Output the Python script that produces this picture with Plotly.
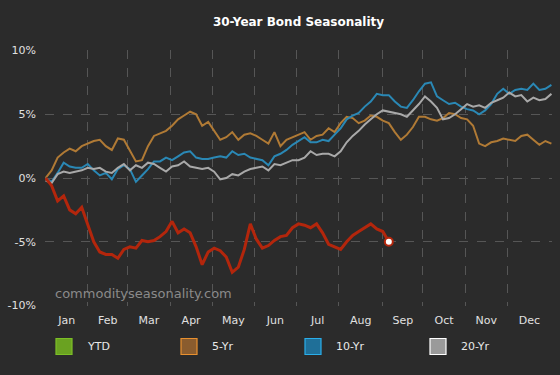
import plotly.graph_objects as go

# ---------------- data (percent change, sampled every 3 trading days) ----------------
months = ["Jan", "Feb", "Mar", "Apr", "May", "Jun", "Jul", "Aug", "Sep", "Oct", "Nov", "Dec"]
month_starts = [0, 21, 41, 62, 83, 104, 125, 146, 168, 188, 209, 230, 252]

five_yr = [0.0, 0.6, 1.6, 2.0, 2.3, 2.1, 2.5, 2.7, 2.9, 3.0,
           2.5, 2.2, 3.1, 3.0, 2.2, 1.3, 1.4, 2.5, 3.3, 3.5,
           3.7, 4.1, 4.6, 4.9, 5.2, 5.0, 4.1, 4.4, 3.7, 3.0,
           3.2, 3.6, 3.0, 3.4, 3.5, 3.3, 3.0, 2.7, 3.6, 2.5,
           3.0, 3.2, 3.4, 3.6, 3.0, 3.3, 3.4, 3.9, 3.6, 4.3,
           4.8, 4.7, 4.3, 4.5, 4.9, 4.8, 4.5, 4.3, 3.6, 3.0,
           3.4, 4.0, 4.8, 4.8, 4.6, 4.5, 4.7, 5.1, 5.0, 4.7,
           4.6, 4.1, 2.7, 2.5, 2.8, 2.9, 3.1, 3.0, 2.9, 3.3,
           3.4, 3.0, 2.6, 2.9, 2.7]

ten_yr = [0.0, -0.3, 0.4, 1.2, 0.9, 0.8, 0.8, 1.1, 0.6, 0.2,
          0.4, -0.1, 0.7, 1.0, 0.7, -0.3, 0.2, 0.7, 1.3, 1.3,
          1.6, 1.4, 1.7, 2.0, 2.1, 1.6, 1.5, 1.5, 1.6, 1.7,
          1.6, 2.1, 1.8, 1.9, 1.6, 1.5, 1.4, 1.0, 1.7, 1.9,
          2.2, 2.6, 2.9, 3.2, 2.8, 2.8, 3.0, 2.9, 3.4, 3.9,
          4.6, 4.9, 5.1, 5.6, 6.0, 6.6, 6.5, 6.5, 6.0, 5.6,
          5.5, 6.1, 6.8, 7.4, 7.5, 6.4, 6.1, 5.8, 5.9, 5.6,
          5.4, 5.3, 5.0, 5.3, 5.8, 6.6, 7.0, 6.6, 6.9, 7.0,
          6.9, 7.4, 6.9, 7.0, 7.3]

twenty_yr = [-0.2, -0.4, 0.3, 0.5, 0.4, 0.5, 0.6, 0.8, 0.7, 0.8,
             0.5, 0.4, 0.8, 1.1, 0.6, 1.0, 0.8, 1.2, 1.1, 0.8,
             0.5, 0.9, 1.0, 1.3, 0.9, 0.8, 0.7, 0.8, 0.5, -0.1,
             0.0, 0.3, 0.2, 0.5, 0.7, 0.8, 0.9, 0.6, 1.1, 1.0,
             1.2, 1.4, 1.4, 1.6, 2.1, 1.8, 1.9, 1.9, 1.7, 2.1,
             2.8, 3.3, 3.7, 4.2, 4.6, 5.0, 5.3, 5.2, 5.1, 5.0,
             4.8, 5.3, 5.8, 6.4, 6.0, 5.5, 4.6, 4.7, 5.0, 5.4,
             5.8, 5.6, 5.7, 5.5, 5.9, 6.1, 6.3, 6.7, 6.4, 6.5,
             6.0, 6.3, 6.1, 6.2, 6.6]

ytd = [0.0, -0.6, -1.8, -1.4, -2.5, -2.8, -2.3, -3.6, -5.0, -5.8,
       -6.0, -6.0, -6.3, -5.6, -5.4, -5.5, -4.9, -5.0, -4.9, -4.6,
       -4.2, -3.4, -4.3, -4.0, -4.3, -5.4, -6.8, -5.8, -5.5, -5.7,
       -6.2, -7.4, -7.0, -5.6, -3.6, -4.8, -5.5, -5.3, -4.9, -4.6,
       -4.5, -3.9, -3.6, -3.7, -3.9, -3.6, -4.3, -5.2, -5.4, -5.6,
       -5.0, -4.5, -4.2, -3.9, -3.6, -4.0, -4.2, -5.0]

y_ticks = [-10, -5, 0, 5, 10]
y_tick_labels = ["-10%", "-5%", "0%", "5%", "10%"]
legend_names = ["YTD", "5-Yr", "10-Yr", "20-Yr"]

# ---------------- figure ----------------
STEP = 3
days_hist = [i * STEP for i in range(len(five_yr))]
days_ytd = [i * STEP for i in range(len(ytd))]
month_mids = [(month_starts[i] + month_starts[i + 1]) / 2 for i in range(12)]

W, H = 560, 375
ML, MR, MT, MB = 45, 8, 50, 69
BG = "#2b2b2b"
GRID = "#565656"
FONT = "DejaVu Sans"

C_5 = "#b07a35"
C_10 = "#2a88b5"
C_20 = "#a9a9a9"
C_YTD = "#b3260c"

fig = go.Figure()
fig.add_trace(go.Scatter(x=days_hist, y=five_yr, mode="lines", line=dict(color=C_5, width=2),
                         name="5-Yr", showlegend=False, hoverinfo="skip"))
fig.add_trace(go.Scatter(x=days_hist, y=ten_yr, mode="lines", line=dict(color=C_10, width=2),
                         name="10-Yr", showlegend=False, hoverinfo="skip"))
fig.add_trace(go.Scatter(x=days_hist, y=twenty_yr, mode="lines", line=dict(color=C_20, width=2),
                         name="20-Yr", showlegend=False, hoverinfo="skip"))
fig.add_trace(go.Scatter(x=days_ytd, y=ytd, mode="lines", line=dict(color=C_YTD, width=3),
                         name="YTD", showlegend=False, hoverinfo="skip"))
fig.add_trace(go.Scatter(x=[days_ytd[-1]], y=[ytd[-1]], mode="markers",
                         marker=dict(color="white", size=8, line=dict(color=C_YTD, width=2)),
                         showlegend=False, hoverinfo="skip"))

pw = W - ML - MR
ph = H - MT - MB


def px_x(px):
    return (px - ML) / pw


def px_y(py):
    return (H - MB - py) / ph


# legend built from squares + labels
legend_fill = ["#6aa221", "#8a5c2e", "#1f6f98", "#9a9a9a"]
legend_line = ["#7cbf26", "#e8902f", "#2aaeea", "#ffffff"]
legend_x = [56, 181, 305, 430]
shapes = []
annotations = []
for name, fc, lc, x0 in zip(legend_names, legend_fill, legend_line, legend_x):
    shapes.append(dict(type="rect", xref="paper", yref="paper",
                       x0=px_x(x0), x1=px_x(x0 + 16), y0=px_y(354.5), y1=px_y(338.5),
                       fillcolor=fc, line=dict(color=lc, width=1.2)))
    annotations.append(dict(xref="paper", yref="paper", x=px_x(x0 + 29), y=px_y(346.5),
                            text=name, showarrow=False, xanchor="left", yanchor="middle",
                            font=dict(family=FONT, size=11, color="#e8e8e8")))

annotations.append(dict(xref="paper", yref="paper", x=px_x(53), y=px_y(293),
                        text="commodityseasonality.com", showarrow=False,
                        xanchor="left", yanchor="middle",
                        font=dict(family=FONT, size=13, color="#8a8a8a")))

fig.update_layout(
    width=W, height=H,
    margin=dict(l=ML, r=MR, t=MT, b=MB, autoexpand=False),
    paper_bgcolor=BG, plot_bgcolor=BG,
    title=dict(text="<b>30-Year Bond Seasonality</b>", x=0.5, xref="paper",
               y=1 - 22 / H, yref="container", yanchor="middle", xanchor="center",
               font=dict(family=FONT, size=12, color="#ffffff")),
    shapes=shapes,
    annotations=annotations,
    showlegend=False,
    hovermode=False,
)
fig.update_xaxes(
    range=[-0.3, 252.3], tickvals=month_mids, ticktext=months,
    showgrid=False, zeroline=False, showline=False, ticks="", automargin=False,
    tickfont=dict(family=FONT, size=11, color="#e0e0e0"),
    ticklabelstandoff=6,
    minor=dict(tickvals=month_starts, showgrid=True, gridcolor=GRID,
               griddash="dash", gridwidth=1, ticks=""),
)
fig.update_yaxes(
    range=[-10.04, 10.04], tickvals=y_ticks, ticktext=y_tick_labels,
    showgrid=True, gridcolor=GRID, griddash="dash", gridwidth=1,
    zeroline=False, showline=False, ticks="", automargin=False,
    tickfont=dict(family=FONT, size=11, color="#e0e0e0"),
    ticklabelstandoff=8,
)

fig.write_html(
    "out.html",
    config={"displayModeBar": False},
    post_script="document.body.style.margin='0';document.body.style.background='#2b2b2b';",
)
